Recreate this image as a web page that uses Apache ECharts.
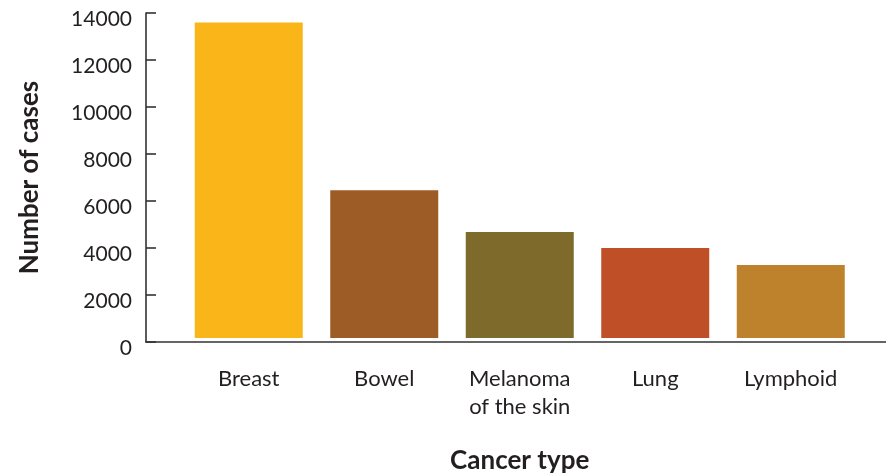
<!DOCTYPE html>
<html>
<head>
<meta charset="utf-8">
<script src="https://cdn.jsdelivr.net/npm/echarts@6/dist/echarts.min.js"></script>
<style>
html,body{margin:0;padding:0;background:#fff;}
#chart{width:886px;height:474px;}
</style>
</head>
<body>
<div id="chart"></div>
<script>
const categories = ['Breast', 'Bowel', 'Melanoma\nof the skin', 'Lung', 'Lymphoid'];
const cases = [13600, 6460, 4680, 4000, 3280];
const barColors = ['#FAB518', '#9D5B25', '#7E6A2B', '#BE4F27', '#BE822C'];
const yTicks = [0, 2000, 4000, 6000, 8000, 10000, 12000, 14000];

const FONT = 'Lato';
const TEXT = '#231F20';
const yMin = yTicks[0], yMax = yTicks[yTicks.length - 1], yStep = yTicks[1] - yTicks[0];

const chart = echarts.init(document.getElementById('chart'), null, {renderer: 'canvas'});
chart.setOption({
  animation: false,
  backgroundColor: '#fff',
  grid: [
    {left: 181, right: 27.5, top: 13, bottom: 132, outerBoundsMode: 'none', containLabel: false},
    {left: 146, right: 0, top: 13, bottom: 132, outerBoundsMode: 'none', containLabel: false}
  ],
  xAxis: [
    {
      gridIndex: 0, type: 'category', data: categories, z: 3,
      axisLine: {show: true, lineStyle: {color: '#ffffff', width: 8}},
      axisTick: {show: false},
      axisLabel: {color: TEXT, fontFamily: FONT, fontSize: 22, lineHeight: 28, margin: 23},
      name: 'Cancer type', nameLocation: 'middle', nameGap: 106,
      nameTextStyle: {color: TEXT, fontFamily: FONT, fontSize: 26, fontWeight: 'bold'}
    },
    {
      gridIndex: 1, type: 'value', min: 0, max: 1, z: 4,
      axisLine: {show: true, lineStyle: {color: '#333333', width: 1.6}},
      axisTick: {show: false}, axisLabel: {show: false}, splitLine: {show: false}
    }
  ],
  yAxis: [
    {
      gridIndex: 0, type: 'value', min: yMin, max: yMax, interval: yStep,
      show: false, splitLine: {show: false}
    },
    {
      gridIndex: 1, type: 'value', min: yMin, max: yMax, interval: yStep, z: 4,
      axisLine: {show: true, lineStyle: {color: '#333333', width: 1.6}},
      axisTick: {show: true, inside: true, length: 10, lineStyle: {color: '#333333', width: 1.6}},
      splitLine: {show: false},
      axisLabel: {color: TEXT, fontFamily: FONT, fontSize: 21, margin: 14,
        verticalAlign: 'top', lineHeight: 13, formatter: v => String(v)},
      name: 'Number of cases', nameLocation: 'middle', nameGap: 103,
      nameTextStyle: {color: TEXT, fontFamily: FONT, fontSize: 26, fontWeight: 'bold'}
    }
  ],
  series: [{
    type: 'bar', xAxisIndex: 0, yAxisIndex: 0,
    barWidth: 108,
    data: cases.map((v, i) => ({value: v, itemStyle: {color: barColors[i]}}))
  }]
});
</script>
</body>
</html>
